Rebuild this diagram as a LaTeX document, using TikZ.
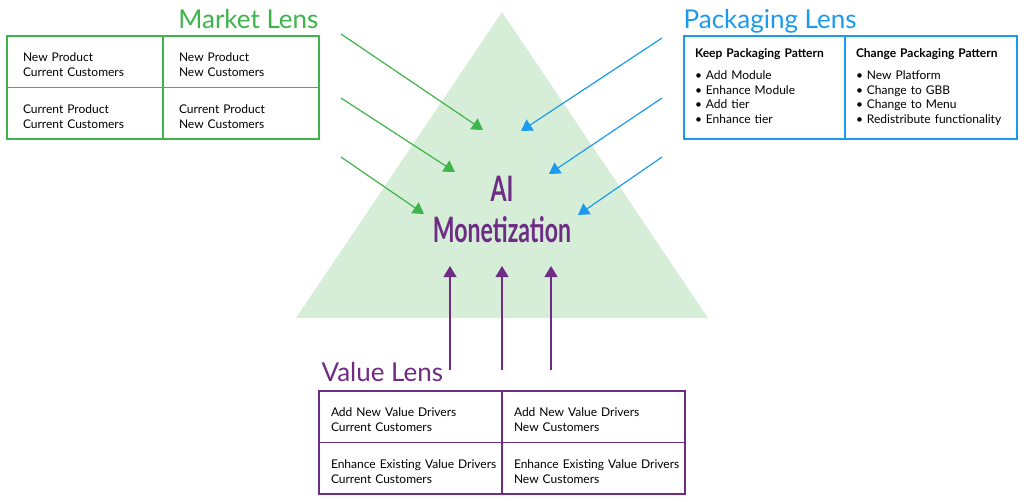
\documentclass[tikz,border=0pt]{standalone}
\usepackage{fontspec}
\setmainfont{Lato}
\usetikzlibrary{arrows.meta,positioning}

\definecolor{mktgreen}{HTML}{3DB54A}
\definecolor{pkgblue}{HTML}{1B9BF0}
\definecolor{valpurple}{HTML}{6E2C85}
\definecolor{pyramidfill}{HTML}{D6EDD8}

\newcommand{\narrowtext}[1]{\scalebox{0.66}[1]{#1}}

\tikzset{
  cell/.style={draw,line width=1.4pt,outer sep=0pt,minimum height=51.5pt,align=left,
    execute at begin node={\rule{0pt}{15pt}}},
  mktcell/.style={cell,draw=mktgreen,text width=124pt,inner xsep=16pt},
  valcell/.style={cell,draw=valpurple,text width=179pt,inner xsep=2pt,
    execute at begin node={\rule{0pt}{15pt}\leftskip=10pt}},
  pkgcell/.style={cell,draw=pkgblue,minimum height=103pt,inner xsep=11pt,
    font=\fontsize{12}{14.6}\selectfont,execute at begin node={},
    execute at end node={\rule[-9pt]{0pt}{9pt}}},
  lenstitle/.style={inner sep=0pt,font=\fontsize{26}{30}\selectfont}
}

\begin{document}
\begin{tikzpicture}[x=1pt,y=-1pt,>={Triangle[width=13pt,length=11pt]},line width=1.2pt,font=\fontsize{12}{15}\selectfont]
\useasboundingbox (0,0) rectangle (1024,501);
\fill[pyramidfill] (502,12) -- (708,318) -- (296,318) -- cycle;

% market lens
\node[lenstitle,text=mktgreen,anchor=base east] (mkttitle) at (319,28) {Market Lens};
\node[mktcell,anchor=north west] (mkt11) at (7,36) {New Product\\Current Customers};
\node[mktcell,right=0pt of mkt11] (mkt12) {New Product\\New Customers};
\node[mktcell,below=0pt of mkt11] (mkt21) {Current Product\\Current Customers};
\node[mktcell,right=0pt of mkt21] (mkt22) {Current Product\\New Customers};

% packaging lens
\node[lenstitle,text=pkgblue,anchor=base west] (pkgtitle) at (683,28) {Packaging Lens};
\node[pkgcell,text width=139pt,anchor=north west] (pkgkeep) at (684,36)
  {\textbf{Keep Packaging Pattern}\\[7.5pt]\textbullet\ Add Module\\\textbullet\ Enhance Module\\\textbullet\ Add tier\\\textbullet\ Enhance tier};
\node[pkgcell,text width=150pt,right=0pt of pkgkeep] (pkgchange)
  {\textbf{Change Packaging Pattern}\\[7.5pt]\textbullet\ New Platform\\\textbullet\ Change to GBB\\\textbullet\ Change to Menu\\\textbullet\ Redistribute functionality};

% value lens
\node[lenstitle,text=valpurple,anchor=base west] (valtitle) at (321,381) {Value Lens};
\node[valcell,anchor=north west] (val11) at (319,391) {Add New Value Drivers\\Current Customers};
\node[valcell,right=0pt of val11] (val12) {Add New Value Drivers\\New Customers};
\node[valcell,below=0pt of val11] (val21) {Enhance Existing Value Drivers\\Current Customers};
\node[valcell,right=0pt of val21] (val22) {Enhance Existing Value Drivers\\New Customers};

% centre
\node[align=center,text=valpurple,font=\fontsize{35}{41}\selectfont\bfseries] (monetize) at (502,209)
  {\narrowtext{AI}\\\narrowtext{Monetization}};

\foreach \i/\sy/\tx/\ty in {1/34/483/130,2/98/455/172,3/157/424/214} {
  \coordinate (mkttail\i) at (341,\sy);
  \coordinate (mkttip\i) at (\tx,\ty);
  \draw[->,mktgreen] (mkttail\i) -- (mkttip\i);
}
\foreach \i/\sy/\tx/\ty in {1/38/521/131,2/98/549/174,3/157/578/215} {
  \coordinate (pkgtail\i) at (662,\sy);
  \coordinate (pkgtip\i) at (\tx,\ty);
  \draw[->,pkgblue] (pkgtail\i) -- (pkgtip\i);
}
\foreach \i/\x in {1/450,2/502,3/551} {
  \coordinate (valtail\i) at (\x,370);
  \coordinate (valtip\i) at (\x,266);
  \draw[->,valpurple] (valtail\i) -- (valtip\i);
}
\end{tikzpicture}
\end{document}
